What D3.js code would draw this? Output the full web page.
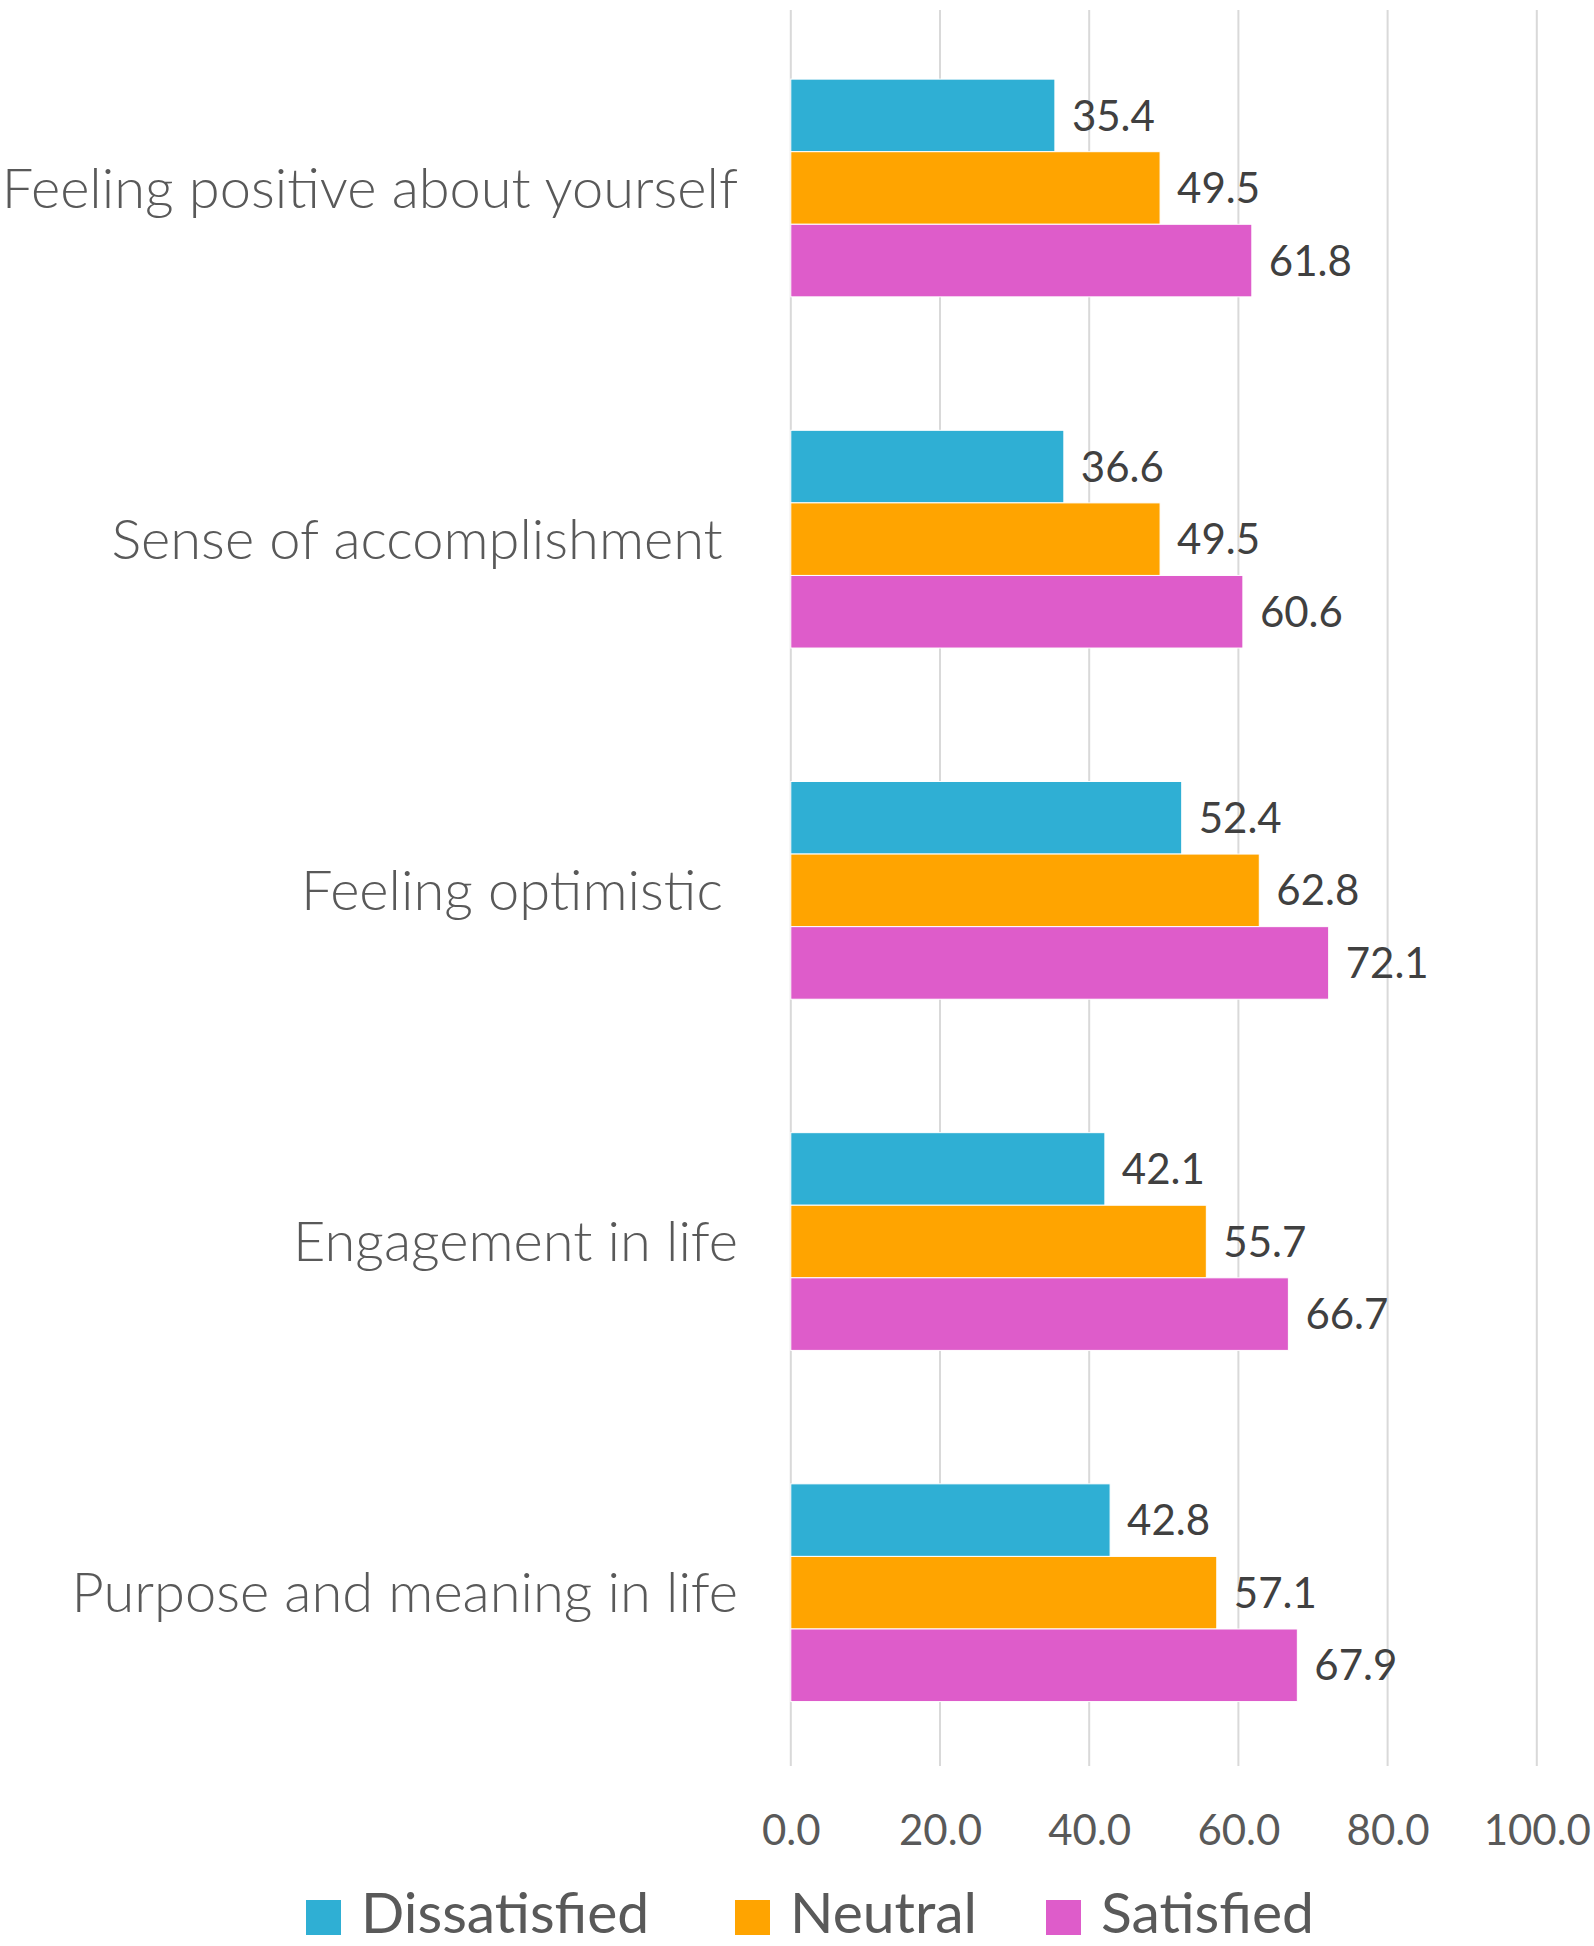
<!DOCTYPE html>
<html>
<head>
<meta charset="utf-8">
<script src="https://cdn.jsdelivr.net/npm/d3@7"></script>
<style>
  body { margin: 0; background: #fff; }
  svg text { white-space: pre; }
</style>
</head>
<body>
<svg id="chart" width="1594" height="1946"></svg>
<script>
(()=>{

//data
const categories = ["Feeling positive about yourself", "Sense of accomplishment ", "Feeling optimistic ", "Engagement in life", "Purpose and meaning in life"];
const seriesNames = ["Dissatisfied", "Neutral", "Satisfied"];
const dissatisfied = [35.4, 36.6, 52.4, 42.1, 42.8];
const neutral = [49.5, 49.5, 62.8, 55.7, 57.1];
const satisfied = [61.8, 60.6, 72.1, 66.7, 67.9];
const ticks = [0, 20, 40, 60, 80, 100];
const colors = ["#2FAFD4", "#FFA400", "#DE5CCA"];

const series = [dissatisfied, neutral, satisfied];

let svg = d3.select("#chart");

//scales
let x = d3.scaleLinear().domain([0, 100]).range([790.8, 1536.8]);
let y = d3.scaleBand().domain(categories).range([12.4, 1768.3]).paddingInner(0.38).paddingOuter(0.19);
let ySub = d3.scaleBand().domain(seriesNames).range([0, y.bandwidth()]);

//gridlines
svg.selectAll(".grid")
	.data(ticks)
	.enter().append("line")
	.attr("class", "grid")
	.attr("x1", d => x(d))
	.attr("x2", d => x(d))
	.attr("y1", 10)
	.attr("y2", 1766)
	.attr("stroke", "#d9d9d9")
	.attr("stroke-width", 2);

//bars
let rows = [];
categories.forEach((c, i) => {
	seriesNames.forEach((s, j) => {
		rows.push({cat: c, name: s, value: series[j][i], color: colors[j]});
	});
});

svg.selectAll(".bar")
	.data(rows)
	.enter().append("rect")
	.attr("class", "bar")
	.attr("x", x(0))
	.attr("y", d => y(d.cat) + ySub(d.name))
	.attr("width", d => x(d.value) - x(0))
	.attr("height", ySub.bandwidth())
	.attr("fill", d => d.color)
	.attr("stroke", "#fff")
	.attr("stroke-width", 1);

//value labels
svg.selectAll(".val")
	.data(rows)
	.enter().append("text")
	.attr("class", "val")
	.attr("x", d => x(d.value) + 17)
	.attr("y", d => y(d.cat) + ySub(d.name) + ySub.bandwidth() / 2)
	.attr("dy", "0.36em")
	.attr("font-family", "Lato, sans-serif")
	.attr("font-size", 42)
	.attr("fill", "#404040")
	.text(d => d.value.toFixed(1));

//category labels
svg.selectAll(".cat")
	.data(categories)
	.enter().append("text")
	.attr("class", "cat")
	.attr("x", 738)
	.attr("y", d => y(d) + y.bandwidth() / 2)
	.attr("dy", "0.35em")
	.attr("text-anchor", "end")
	.attr("font-family", "Lato, sans-serif")
	.attr("font-weight", 300)
	.attr("font-size", 56)
	.attr("fill", "#595959")
	.text(d => d);

//x axis
let axis = svg.append("g")
	.attr("transform", "translate(0,1815)")
	.call(d3.axisBottom(x).tickValues(ticks).tickSize(0).tickPadding(0).tickFormat(d3.format(".1f")));
axis.select(".domain").remove();
axis.selectAll("text")
	.attr("font-family", "Lato, sans-serif")
	.attr("font-size", 42)
	.attr("fill", "#595959");

//legend
const legendX = [361, 790, 1101];
let legend = svg.selectAll(".legend")
	.data(seriesNames)
	.enter().append("g")
	.attr("class", "legend")
	.attr("transform", (d, i) => "translate(" + legendX[i] + ",0)");
legend.append("rect")
	.attr("x", -55)
	.attr("y", 1900)
	.attr("width", 35)
	.attr("height", 35)
	.attr("fill", (d, i) => colors[i]);
legend.append("text")
	.attr("x", 0)
	.attr("y", 1933)
	.attr("font-family", "Lato, sans-serif")
	.attr("font-size", 57)
	.attr("fill", "#595959")
	.text(d => d);

})();
</script>
</body>
</html>
